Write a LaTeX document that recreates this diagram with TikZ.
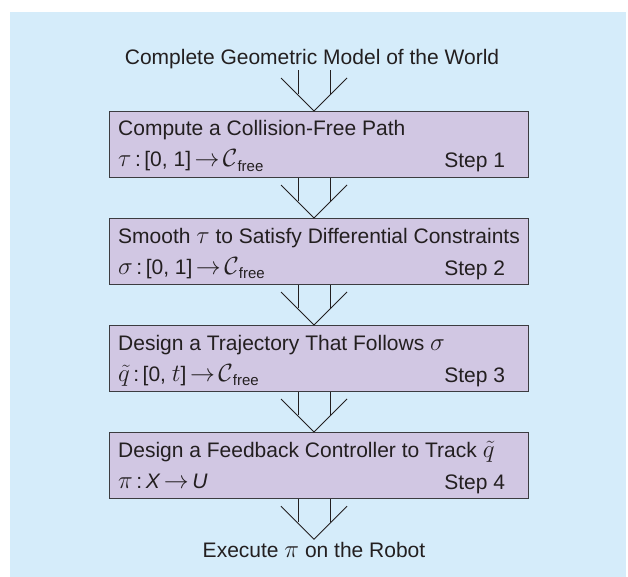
\documentclass[tikz,border=0pt]{standalone}
\usepackage{fontspec}
\setmainfont{Liberation Sans}
\usepackage{amsmath}
\usetikzlibrary{calc}
\definecolor{bgblue}{RGB}{213,236,250}
\definecolor{boxfill}{RGB}{209,199,227}
\definecolor{edgec}{RGB}{60,60,64}
\definecolor{textc}{RGB}{35,31,32}
\newcommand{\bm}[1]{{\fontsize{24}{28}\selectfont$#1$}}
\newcommand{\cfree}{\bm{\mathcal{C}}\raisebox{-4.5pt}{\fontsize{15}{15}\selectfont free}}
\begin{document}
\begin{tikzpicture}[x=1pt,y=-1pt,
  stepbox/.style={draw=edgec, line width=1.2pt, fill=boxfill, minimum width=419pt, minimum height=66pt, anchor=north west, inner sep=0pt},
  txt/.style={font=\fontsize{21}{25}\selectfont, text=textc, inner sep=0pt},
  forkline/.style={draw=textc, line width=0.9pt}]
\useasboundingbox (0,0) rectangle (628,577);
\fill[bgblue] (10,12) rectangle (626,577);

\node[txt, anchor=base] (title) at (312,65) {Complete Geometric Model of the World};

\node[stepbox] (b1) at (109,111) {};
\node[stepbox] (b2) at (109,218) {};
\node[stepbox] (b3) at (109,325) {};
\node[stepbox] (b4) at (109,432) {};

\node[txt, anchor=base west] (b1a) at ($(b1.north west)+(9,25)$) {Compute a Collision-Free Path};
\node[txt, anchor=base west] (b1b) at ($(b1.north west)+(9,56)$) {\bm{\tau}\,:\,[0, 1]\,\bm{\rightarrow}\,\cfree};
\node[txt, anchor=base east] (b1s) at ($(b1.north east)+(-24,57)$) {Step 1};

\node[txt, anchor=base west] (b2a) at ($(b2.north west)+(9,25)$) {Smooth \bm{\tau} to Satisfy Differential Constraints};
\node[txt, anchor=base west] (b2b) at ($(b2.north west)+(9,56)$) {\bm{\sigma}\,:\,[0, 1]\,\bm{\rightarrow}\,\cfree};
\node[txt, anchor=base east] (b2s) at ($(b2.north east)+(-24,57)$) {Step 2};

\node[txt, anchor=base west] (b3a) at ($(b3.north west)+(9,25)$) {Design a Trajectory That Follows \bm{\sigma}};
\node[txt, anchor=base west] (b3b) at ($(b3.north west)+(9,56)$) {\bm{\tilde{q}}\,:\,[0, \bm{t}]\,\bm{\rightarrow}\,\cfree};
\node[txt, anchor=base east] (b3s) at ($(b3.north east)+(-24,57)$) {Step 3};

\node[txt, anchor=base west] (b4a) at ($(b4.north west)+(9,25)$) {Design a Feedback Controller to Track \bm{\tilde{q}}};
\node[txt, anchor=base west] (b4b) at ($(b4.north west)+(9,56)$) {\bm{\pi}\,:\,\textit{X}\,\bm{\rightarrow}\,\textit{U}};
\node[txt, anchor=base east] (b4s) at ($(b4.north east)+(-24,57)$) {Step 4};

\node[txt, anchor=base] (exec) at (314,557) {Execute \bm{\pi} on the Robot};

% forks
\coordinate (t1) at ($(b1.north west)+(205,0)$);
\coordinate (t2) at ($(b2.north west)+(205,0)$);
\coordinate (t3) at ($(b3.north west)+(205,0)$);
\coordinate (t4) at ($(b4.north west)+(205,0)$);
\coordinate (t5) at ($(b4.south west)+(205,40)$);

\foreach \t/\s in {t1/title, t2/b1, t3/b2, t4/b3, t5/b4}{
  \draw[forkline] ($(\t)+(-33,-33)$) -- (\t) -- ($(\t)+(33,-33)$);
  \draw[forkline] ($(\t)+(-16,-17)$) coordinate (l) -- (l |- \s.south);
  \draw[forkline] ($(\t)+(16,-17)$) coordinate (r) -- (r |- \s.south);
}
\end{tikzpicture}
\end{document}
